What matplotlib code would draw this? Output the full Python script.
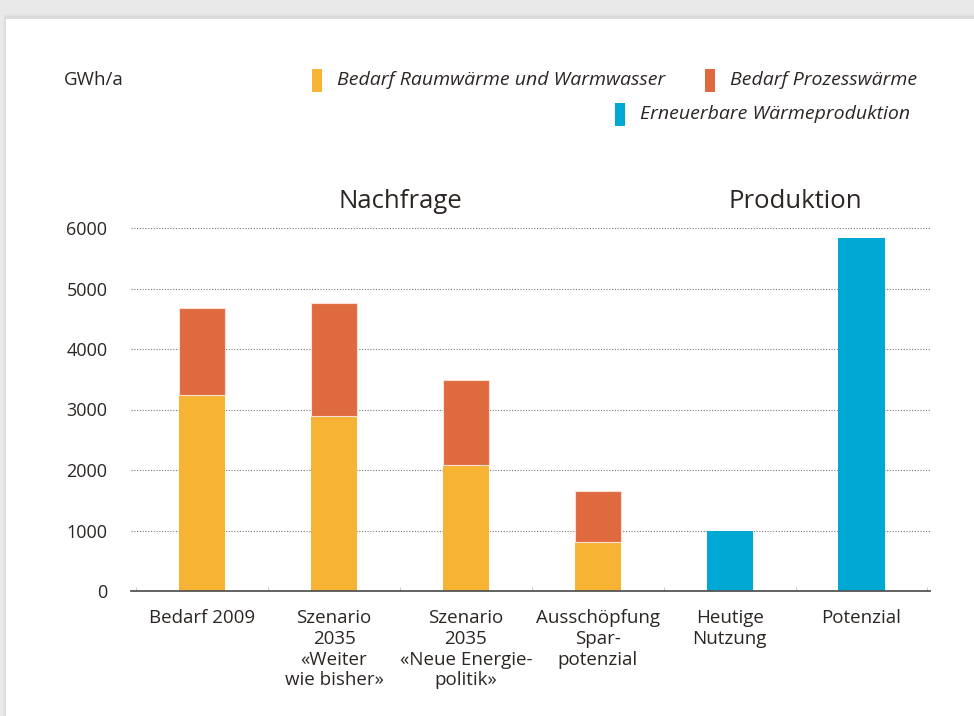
import numpy as np
import matplotlib.pyplot as plt
from matplotlib.patches import Rectangle

plt.rcParams['font.family'] = ['Open Sans', 'DejaVu Sans']

categories = ['Bedarf 2009', 'Szenario\n2035\n«Weiter\nwie bisher»',
              'Szenario\n2035\n«Neue Energie-\npolitik»', 'Ausschöpfung\nSpar-\npotenzial',
              'Heutige\nNutzung', 'Potenzial']
raumwaerme = [3240, 2890, 2080, 810, 0, 0]
prozesswaerme = [1440, 1870, 1410, 840, 0, 0]
erneuerbar = [0, 0, 0, 0, 1000, 5830]
yticks = [0, 1000, 2000, 3000, 4000, 5000, 6000]

c_yellow = '#F7B334'
c_orange = '#E06A40'
c_blue = '#00A9D4'
txt = '#2b2623'

fig = plt.figure(figsize=(9.74, 7.16), dpi=100)
fig.patch.set_facecolor('#e9e9e9')
# white panel with a soft shadow
for i, a in enumerate([0.04, 0.06, 0.08]):
    fig.patches.append(Rectangle((3/974 + i*1/974, -0.01), 1.1, 1 - (9 - i)/716,
                                 transform=fig.transFigure, facecolor='#999999',
                                 alpha=a, edgecolor='none', zorder=0))
fig.patches.append(Rectangle((6/974, -0.01), 1.1, 1 - 12/716, transform=fig.transFigure,
                             facecolor='white', edgecolor='none', zorder=0))

ax = fig.add_axes([131/974, 1 - 591/716, (930 - 131)/974, (591 - 228)/716])
ax.set_zorder(2)
ax.set_facecolor('none')
x = np.arange(len(categories))
w = 0.35
ax.bar(x, raumwaerme, w, color=c_yellow, zorder=3)
ax.bar(x, prozesswaerme, w, bottom=raumwaerme, color=c_orange,
       edgecolor='#fbe0d6', linewidth=0.8, zorder=3)
ax.bar(x, erneuerbar, w, color=c_blue, zorder=3)

ax.set_xlim(-0.54, 5.52)
ax.set_ylim(0, 6000)
ax.set_yticks(yticks)
ax.set_yticklabels([str(v) for v in yticks], fontsize=13, color=txt)
ax.set_xticks(x)
ax.set_xticklabels(categories, fontsize=13.5, color=txt, linespacing=1.2, va='top')
ax.tick_params(axis='y', length=0, pad=17)
ax.tick_params(axis='x', length=0, pad=13)
ax.set_xticks(np.arange(-0.5, len(categories)), minor=True)
ax.tick_params(axis='x', which='minor', length=3, direction='in', color='#bbbbbb')

ax.yaxis.grid(True, linestyle=(0, (1, 1.5)), color='#777777', linewidth=0.8, zorder=0)
for s in ['top', 'right', 'left']:
    ax.spines[s].set_visible(False)
ax.spines['bottom'].set_color('#555555')
ax.spines['bottom'].set_linewidth(1.3)
ax.spines['bottom'].set_zorder(4)

ax.text(1.5, 6230, 'Nachfrage', ha='center', va='bottom', fontsize=18.5, color=txt)
ax.text(4.5, 6230, 'Produktion', ha='center', va='bottom', fontsize=18.5, color=txt)

fig.text(64/974, 1 - 80/716, 'GWh/a', fontsize=13.5, color=txt, va='center')
legend_items = [(312, 80, c_yellow, 'Bedarf Raumwärme und Warmwasser'),
                (705, 80, c_orange, 'Bedarf Prozesswärme'),
                (615, 114, c_blue, 'Erneuerbare Wärmeproduktion')]
for lx, ly, col, lab in legend_items:
    fig.patches.append(Rectangle((lx/974, 1 - (ly + 11.5)/716), 10/974, 23/716,
                                 transform=fig.transFigure, facecolor=col,
                                 edgecolor='none'))
    fig.text((lx + 25)/974, 1 - ly/716, lab, fontsize=14, style='italic',
             color=txt, va='center')

fig.savefig('out.png', dpi=100, facecolor=fig.get_facecolor())
